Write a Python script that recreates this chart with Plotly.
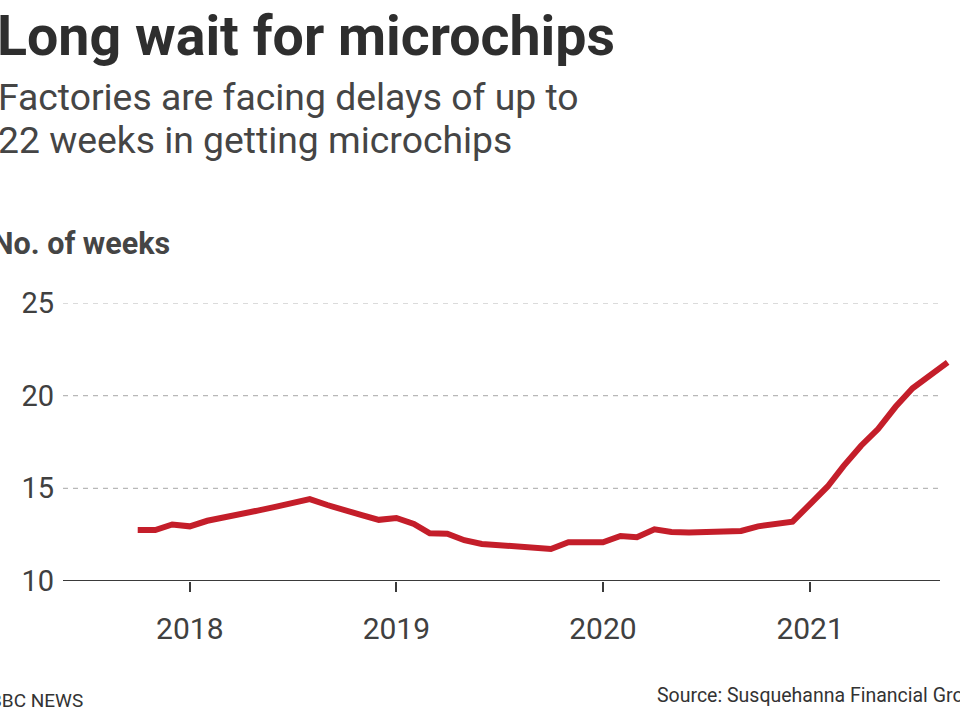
import pandas as pd
import plotly.graph_objects as go

# ---- data (monthly, Oct 2017 - Sep 2021) ----
months = pd.date_range("2017-10-01", "2021-09-01", freq="MS")
weeks = [
    12.75, 12.75, 13.05,                                   # Oct-Dec 2017
    12.95, 13.25, 13.40, 13.60, 13.80, 14.00, 14.20, 14.42, 14.10, 13.80, 13.55, 13.30,  # 2018
    13.40, 13.08, 12.57, 12.55, 12.20, 12.00, 11.95, 11.88, 11.82, 11.73, 12.09, 12.09,  # 2019
    12.09, 12.43, 12.36, 12.79, 12.65, 12.62, 12.65, 12.67, 12.70, 12.95, 13.10, 13.20,  # 2020
    14.15, 15.10, 16.20, 17.30, 18.20, 19.40, 20.40, 21.10, 21.80,                       # 2021
]
year_ticks = ["2018-01-01", "2019-01-01", "2020-01-01", "2021-01-01"]
year_labels = ["2018", "2019", "2020", "2021"]
y_ticks = [10, 15, 20, 25]

title = "Long wait for microchips"
subtitle_lines = ["Factories are facing delays of up to", "22 weeks in getting microchips"]
y_label = "No. of weeks"
footer_left = "BBC NEWS"
footer_right = "Source: Susquehanna Financial Group"

# ---- layout geometry (pixels) ----
W, H = 960, 720
ML, MR, MT, MB = 63, 5, 303, 139
PW = W - ML - MR
PH = H - MT - MB


def px(x):
    return (x - ML) / PW


def py(y):
    return (H - MB - y) / PH


FONT = "Roboto"
RED = "#c41e2a"

fig = go.Figure()
fig.add_trace(go.Scatter(
    x=months, y=weeks, mode="lines",
    line=dict(color=RED, width=6),
    hoverinfo="skip", showlegend=False,
))

axis_end = px(940)
shapes = []
for v in y_ticks[1:]:
    shapes.append(dict(type="line", xref="paper", yref="y", x0=0, x1=axis_end, y0=v, y1=v,
                       line=dict(color="#b8b8b8", width=1.2, dash="5px,5px"), layer="below"))
shapes.append(dict(type="line", xref="paper", yref="y", x0=0, x1=axis_end, y0=y_ticks[0], y1=y_ticks[0],
                   line=dict(color="#3a3a3a", width=2), layer="above"))

annotations = [
    dict(text=f"<b>{title}</b>", x=px(-5), y=py(36), xref="paper", yref="paper",
         xanchor="left", yanchor="middle", showarrow=False,
         font=dict(family=FONT, size=55.5, color="#2e2e2e")),
    dict(text=subtitle_lines[0], x=px(-4), y=py(97), xref="paper", yref="paper",
         xanchor="left", yanchor="middle", showarrow=False,
         font=dict(family=FONT, size=37.3, color="#454545")),
    dict(text=subtitle_lines[1], x=px(-4), y=py(140), xref="paper", yref="paper",
         xanchor="left", yanchor="middle", showarrow=False,
         font=dict(family=FONT, size=37.3, color="#454545")),
    dict(text=f"<b>{y_label}</b>", x=px(-10), y=py(243), xref="paper", yref="paper",
         xanchor="left", yanchor="middle", showarrow=False,
         font=dict(family=FONT, size=30.5, color="#454545")),
    dict(text=footer_left, x=px(-12), y=py(700), xref="paper", yref="paper",
         xanchor="left", yanchor="middle", showarrow=False,
         font=dict(family=FONT, size=19, color="#333333")),
    dict(text=footer_right, x=px(655), y=py(695), xref="paper", yref="paper",
         xanchor="left", yanchor="middle", showarrow=False,
         font=dict(family=FONT, size=19.5, color="#333333")),
]

fig.update_layout(
    width=W, height=H,
    margin=dict(l=ML, r=MR, t=MT, b=MB, pad=0),
    paper_bgcolor="white", plot_bgcolor="white",
    showlegend=False,
    shapes=shapes,
    annotations=annotations,
    xaxis=dict(
        type="date",
        range=["2017-05-22", "2021-09-14"],
        tickmode="array", tickvals=year_ticks, ticktext=year_labels,
        ticks="outside", ticklen=10, tickwidth=2, tickcolor="#3a3a3a",
        ticklabelstandoff=11,
        showgrid=False, showline=False, zeroline=False,
        tickfont=dict(family=FONT, size=30, color="#404040"),
        fixedrange=True,
    ),
    yaxis=dict(
        range=[10, 25],
        tickmode="array", tickvals=y_ticks,
        ticks="", showgrid=False, showline=False, zeroline=False,
        ticklabelstandoff=8,
        tickfont=dict(family=FONT, size=29, color="#404040"),
        fixedrange=True,
    ),
)

fig.write_html(
    "out.html",
    config={"displayModeBar": False},
    post_script="document.body.style.margin='0';document.body.style.overflow='hidden';",
)
